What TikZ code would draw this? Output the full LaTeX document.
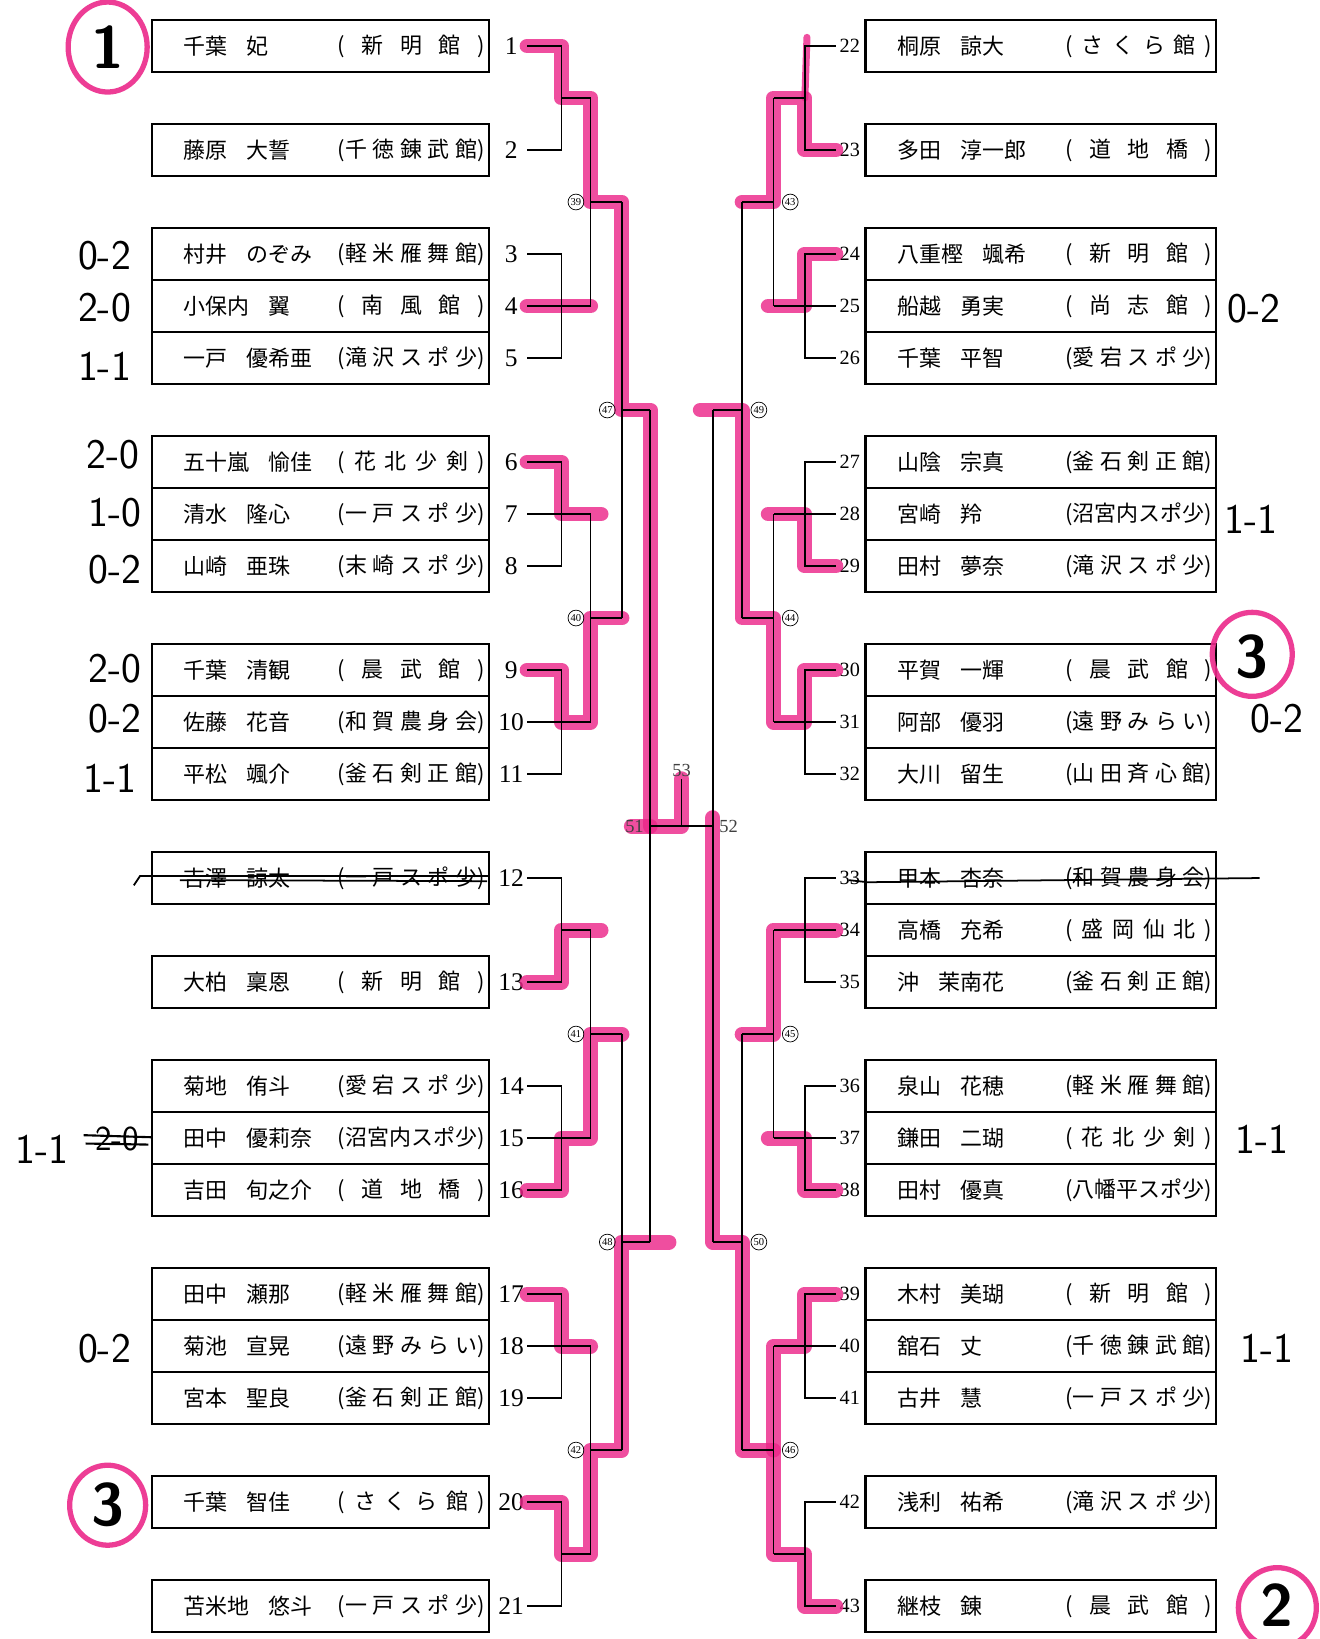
\documentclass[tikz,border=0pt]{standalone}
\usepackage{fontspec}
\setmainfont{Liberation Serif}
\newfontfamily\jfont{Noto Sans CJK JP}
\usetikzlibrary{positioning}

\definecolor{hlpink}{RGB}{236,40,138}
\newcommand{\gap}{\hspace{0.9em}}
\newcommand{\dojo}[1]{(\makebox[75pt][s]{#1})}

\tikzset{
  box/.style={line width=1.2pt},
  br/.style={line width=0.9pt},
  hl/.style={draw=hlpink,line width=8.5pt,opacity=0.82,line join=round,line cap=round},
  ring/.style={draw=hlpink,line width=3pt,opacity=0.9},
  lnum/.style={font=\fontsize{14.5}{14}\selectfont,inner sep=0pt,minimum width=17.8pt},
  rnum/.style={font=\fontsize{11.5}{12}\selectfont,inner sep=0pt,minimum width=15.5pt},
  ent/.style={font=\jfont\fontsize{12.5}{13}\selectfont,anchor=west,inner sep=0pt},
  mno/.style={circle,draw,line width=0.4pt,inner sep=0pt,minimum size=9pt,font=\fontsize{6}{6}\selectfont},
  fin/.style={font=\fontsize{10.5}{11}\selectfont,text=black!75,inner sep=1pt},
  hw/.style={font=\sffamily\fontsize{24}{24}\selectfont},
  rank/.style={font=\sffamily\bfseries\fontsize{34}{34}\selectfont},
}

\begin{document}
\begin{tikzpicture}[x=0.0209cm,y=-0.0209cm]
\fill[white] (0,0) rectangle (1262,1568);
\useasboundingbox (0,0) rectangle (1262,1568);

% junctions, left half
\coordinate (t1) at (537,93.75);
\coordinate (t3) at (537,292.75);
\coordinate (t6) at (537,491.75);
\coordinate (t9) at (537,690.75);
\coordinate (t12) at (537,889.75);
\coordinate (t14) at (537,1088.75);
\coordinate (t17) at (537,1287.75);
\coordinate (t20) at (537,1486.75);
\coordinate (s1) at (565,93.75);
\coordinate (s4) at (565,292.75);
\coordinate (s7) at (565,491.75);
\coordinate (s10) at (565,690.75);
\coordinate (s12) at (565,889.75);
\coordinate (s15) at (565,1088.75);
\coordinate (s18) at (565,1287.75);
\coordinate (s20) at (565,1486.75);
\coordinate (m39) at (595,193.25);
\coordinate (m40) at (595,591.25);
\coordinate (m41) at (595,989.25);
\coordinate (m42) at (595,1387.25);
\coordinate (m47) at (622,392.25);
\coordinate (m48) at (622,1188.25);
\coordinate (m51) at (622,790.25);
% junctions, right half
\coordinate (t22) at (770,93.75);
\coordinate (t24) at (770,292.75);
\coordinate (t27) at (770,491.75);
\coordinate (t30) at (770,690.75);
\coordinate (t33) at (770,889.75);
\coordinate (t36) at (770,1088.75);
\coordinate (t39) at (770,1287.75);
\coordinate (t42) at (770,1486.75);
\coordinate (s22) at (740,93.75);
\coordinate (s25) at (740,292.75);
\coordinate (s28) at (740,491.75);
\coordinate (s31) at (740,690.75);
\coordinate (s34) at (740,889.75);
\coordinate (s37) at (740,1088.75);
\coordinate (s40) at (740,1287.75);
\coordinate (s42) at (740,1486.75);
\coordinate (m43) at (710,193.25);
\coordinate (m44) at (710,591.25);
\coordinate (m45) at (710,989.25);
\coordinate (m46) at (710,1387.25);
\coordinate (m49) at (682,392.25);
\coordinate (m50) at (682,1188.25);
\coordinate (m52) at (682,790.25);
\coordinate (m53) at (652,745);

% boxes
\foreach \yy in {44,143.5,840,939.5,1437,1536.5}
  \draw[box] (145,\yy-24.9) rectangle (468,\yy+24.9);
\foreach \yy in {243,442,641,1039,1238}{
  \draw[box] (145,\yy-24.9) rectangle (468,\yy+124.4);
  \draw[box] (145,\yy+24.9) -- (468,\yy+24.9) (145,\yy+74.6) -- (468,\yy+74.6);
}
\foreach \yy in {44,143.5,1437,1536.5}
  \draw[box] (828,\yy-24.9) rectangle (1163,\yy+24.9);
\foreach \yy in {243,442,641,840,1039,1238}{
  \draw[box] (828,\yy-24.9) rectangle (1163,\yy+124.4);
  \draw[box] (828,\yy+24.9) -- (1163,\yy+24.9) (828,\yy+74.6) -- (1163,\yy+74.6);
}

% entries
\foreach \nr/\yy/\nam/\clb in {
  1/44/{千葉\gap 妃}/{\ 新 明 館\ },
  2/143.5/{藤原\gap 大誓}/{千 徳 錬 武 館},
  3/243/{村井\gap のぞみ}/{軽 米 雁 舞 館},
  4/292.75/{小保内\gap 翼}/{\ 南 風 館\ },
  5/342.5/{一戸\gap 優希亜}/{滝 沢 ス ポ 少},
  6/442/{五十嵐\gap 愉佳}/{\ 花 北 少 剣\ },
  7/491.75/{清水\gap 隆心}/{一 戸 ス ポ 少},
  8/541.5/{山崎\gap 亜珠}/{末 崎 ス ポ 少},
  9/641/{千葉\gap 清観}/{\ 晨 武 館\ },
  10/690.75/{佐藤\gap 花音}/{和 賀 農 身 会},
  11/740.5/{平松\gap 颯介}/{釜 石 剣 正 館},
  12/840/{吉澤\gap 諒太}/{一 戸 ス ポ 少},
  13/939.5/{大柏\gap 稟恩}/{\ 新 明 館\ },
  14/1039/{菊地\gap 侑斗}/{愛 宕 ス ポ 少},
  15/1088.75/{田中\gap 優莉奈}/{沼宮内スポ少},
  16/1138.5/{吉田\gap 旬之介}/{\ 道 地 橋\ },
  17/1238/{田中\gap 瀬那}/{軽 米 雁 舞 館},
  18/1287.75/{菊池\gap 宣晃}/{遠 野 み ら い},
  19/1337.5/{宮本\gap 聖良}/{釜 石 剣 正 館},
  20/1437/{千葉\gap 智佳}/{\ さ く ら 館\ },
  21/1536.5/{苫米地\gap 悠斗}/{一 戸 ス ポ 少}}{
  \node[lnum] (n\nr) at (489,\yy) {\nr};
  \node[ent] (p\nr) at (175,\yy) {\nam};
  \node[ent] (d\nr) at (323,\yy) {\dojo{\clb}};
}
\foreach \nr/\yy/\nam/\clb in {
  22/44/{桐原\gap 諒大}/{\ さ く ら 館\ },
  23/143.5/{多田\gap 淳一郎}/{\ 道 地 橋\ },
  24/243/{八重樫\gap 颯希}/{\ 新 明 館\ },
  25/292.75/{船越\gap 勇実}/{\ 尚 志 館\ },
  26/342.5/{千葉\gap 平智}/{愛 宕 ス ポ 少},
  27/442/{山陰\gap 宗真}/{釜 石 剣 正 館},
  28/491.75/{宮崎\gap 羚}/{沼宮内スポ少},
  29/541.5/{田村\gap 夢奈}/{滝 沢 ス ポ 少},
  30/641/{平賀\gap 一輝}/{\ 晨 武 館\ },
  31/690.75/{阿部\gap 優羽}/{遠 野 み ら い},
  32/740.5/{大川\gap 留生}/{山 田 斉 心 館},
  33/840/{甲本\gap 杏奈}/{和 賀 農 身 会},
  34/889.75/{高橋\gap 充希}/{\ 盛 岡 仙 北\ },
  35/939.5/{沖\gap 茉南花}/{釜 石 剣 正 館},
  36/1039/{泉山\gap 花穂}/{軽 米 雁 舞 館},
  37/1088.75/{鎌田\gap 二瑚}/{\ 花 北 少 剣\ },
  38/1138.5/{田村\gap 優真}/{八幡平スポ少},
  39/1238/{木村\gap 美瑚}/{\ 新 明 館\ },
  40/1287.75/{舘石\gap 丈}/{千 徳 錬 武 館},
  41/1337.5/{古井\gap 慧}/{一 戸 ス ポ 少},
  42/1437/{浅利\gap 祐希}/{滝 沢 ス ポ 少},
  43/1536.5/{継枝\gap 錬}/{\ 晨 武 館\ }}{
  \node[rnum] (n\nr) at (813,\yy) {\nr};
  \node[ent] (p\nr) at (858,\yy) {\nam};
  \node[ent] (d\nr) at (1019,\yy) {\dojo{\clb}};
}

% highlighter
\draw[hl] (n1.east) -| (t1) -- (s1) |- (m39) |- (m47) -- (m51) -| (m53);
\draw[hl] (m51) -- ++(-18,0);
\draw[hl] (n4.east) -- (s4);
\draw[hl] (n6.east) -| (t6) -- ++(38,0);
\draw[hl] (n9.east) -| (t9) -- (s10) |- (m40);
\draw[hl] (n13.east) -| (t12) -- ++(38,0);
\draw[hl] (n16.east) -| (t14) -- (s15) |- (m41);
\draw[hl] (n17.east) -| (t17) -- (s18);
\draw[hl] (n20.east) -| (t20) -- (s20) |- (m42) |- (m48) -- ++(18,0);
\draw[hl] (n23.west) -| (t22) -- (s22) |- (m43);
\draw[hl,line width=4pt] (t22) -- ++(2,-58);
\draw[hl] (n24.west) -| (t24) -- ++(-35,0);
\draw[hl] (n29.west) -| (t27) -- ++(-35,0);
\draw[hl] (n30.west) -| (t30) -- (s31) |- (m44) |- (m49) -- ++(-12,0);
\draw[hl] (n34.west) -- (s34) |- (m45);
\draw[hl] (n38.west) -| (t36) -- ++(-35,0);
\draw[hl] (n39.west) -| (t39) -- (s40) -- (s40 |- m46);
\draw[hl] (n43.west) -| (t42) -- (s42) |- (m46) |- (m50) -- (m52) -- ++(0,-8);

% bracket, left half
\draw[br] (n1.east) -| (t1) |- (n2.east) (t1) -- (s1);
\draw[br] (n3.east) -| (t3) |- (n5.east) (n4.east) -- (s4);
\draw[br] (n6.east) -| (t6) |- (n8.east) (n7.east) -- (s7);
\draw[br] (n9.east) -| (t9) |- (n11.east) (n10.east) -- (s10);
\draw[br] (n12.east) -| (t12) |- (n13.east) (t12) -- (s12);
\draw[br] (n14.east) -| (t14) |- (n16.east) (n15.east) -- (s15);
\draw[br] (n17.east) -| (t17) |- (n19.east) (n18.east) -- (s18);
\draw[br] (n20.east) -| (t20) |- (n21.east) (t20) -- (s20);
\draw[br] (s1) -- (s4) (s1 |- m39) -- (m39);
\draw[br] (s7) -- (s10) (s7 |- m40) -- (m40);
\draw[br] (s12) -- (s15) (s12 |- m41) -- (m41);
\draw[br] (s18) -- (s20) (s18 |- m42) -- (m42);
\draw[br] (m39) -- (m40) (m39 |- m47) -- (m47);
\draw[br] (m41) -- (m42) (m41 |- m48) -- (m48);
\draw[br] (m47) -- (m48);
% bracket, right half
\draw[br] (n22.west) -| (t22) |- (n23.west) (t22) -- (s22);
\draw[br] (n24.west) -| (t24) |- (n26.west) (n25.west) -- (s25);
\draw[br] (n27.west) -| (t27) |- (n29.west) (n28.west) -- (s28);
\draw[br] (n30.west) -| (t30) |- (n32.west) (n31.west) -- (s31);
\draw[br] (n33.west) -| (t33) |- (n35.west) (n34.west) -- (s34);
\draw[br] (n36.west) -| (t36) |- (n38.west) (n37.west) -- (s37);
\draw[br] (n39.west) -| (t39) |- (n41.west) (n40.west) -- (s40);
\draw[br] (n42.west) -| (t42) |- (n43.west) (t42) -- (s42);
\draw[br] (s22) -- (s25) (s22 |- m43) -- (m43);
\draw[br] (s28) -- (s31) (s28 |- m44) -- (m44);
\draw[br] (s34) -- (s37) (s34 |- m45) -- (m45);
\draw[br] (s40) -- (s42) (s40 |- m46) -- (m46);
\draw[br] (m43) -- (m44) (m43 |- m49) -- (m49);
\draw[br] (m45) -- (m46) (m45 |- m50) -- (m50);
\draw[br] (m49) -- (m50);
% final
\draw[br] (m51) -- (m52) (m53 |- m51) -- (m53);

% match numbers
\node[mno] (c39) at (551,193.25) {39};
\node[mno] (c40) at (551,591.25) {40};
\node[mno] (c41) at (551,989.25) {41};
\node[mno] (c42) at (551,1387.25) {42};
\node[mno] (c47) at (581,392.25) {47};
\node[mno] (c48) at (581,1188.25) {48};
\node[mno] (c43) at (756,193.25) {43};
\node[mno] (c44) at (756,591.25) {44};
\node[mno] (c45) at (756,989.25) {45};
\node[mno] (c46) at (756,1387.25) {46};
\node[mno] (c49) at (726,392.25) {49};
\node[mno] (c50) at (726,1188.25) {50};
\node[fin] (l51) at (607,790.25) {51};
\node[fin] (l52) at (697,790.25) {52};
\node[fin,above=0pt of m53] (l53) {53};

% withdrawn entries
\draw[line width=1pt] (128,847) -- (134,838) -- (468,838) (172,842) -- (466,843);
\draw[line width=1pt] (812,842) -- (830,844) -- (1205,840);

% handwritten notes
\draw[ring] (103,45) ellipse [x radius=0.79cm,y radius=0.9cm];
\node[rank] (k1) at (103,45) {1};
\draw[ring] (103,1440) ellipse [x radius=0.76cm,y radius=0.8cm];
\node[rank] (k20) at (103,1440) {3};
\draw[ring] (1198,626) ellipse [x radius=0.8cm,y radius=0.84cm];
\node[rank] (k30) at (1198,628) {3};
\draw[ring] (1222,1538) ellipse [x radius=0.78cm,y radius=0.8cm];
\node[rank] (k43) at (1222,1536) {2};
\node[hw] (h3) at (100,245) {0-2};
\node[hw] (h4) at (100,294) {2-0};
\node[hw] (h5) at (100,350) {1-1};
\node[hw] (h6) at (108,435) {2-0};
\node[hw] (h7) at (110,490) {1-0};
\node[hw] (h8) at (110,545) {0-2};
\node[hw] (h9) at (110,640) {2-0};
\node[hw] (h10) at (110,688) {0-2};
\node[hw] (h11) at (105,745) {1-1};
\node[hw] (h15) at (40,1100) {1-1};
\node[hw,font=\sffamily\fontsize{20}{20}\selectfont] (x15) at (112,1090) {2-0};
\draw[line width=1.2pt] (80,1086) -- (146,1088) (82,1094) -- (142,1095);
\node[hw] (h18) at (100,1290) {0-2};
\node[hw] (h25) at (1200,295) {0-2};
\node[hw] (h28) at (1197,497) {1-1};
\node[hw] (h31) at (1222,688) {0-2};
\node[hw] (h37) at (1207,1090) {1-1};
\node[hw] (h40) at (1212,1290) {1-1};
\end{tikzpicture}
\end{document}
